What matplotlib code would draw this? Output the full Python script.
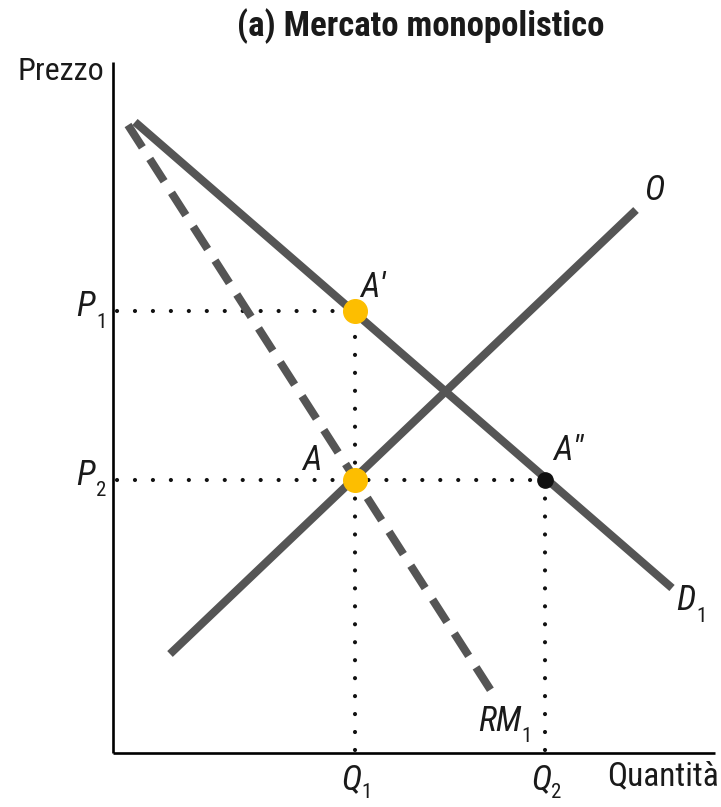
import matplotlib
matplotlib.use("Agg")
import matplotlib.pyplot as plt
from matplotlib import font_manager

# curves (quantity, price) in chart units, origin at the axes corner
demand_q = [22, 559]
demand_p = [631, 165]
supply_q = [57, 523]
supply_p = [99, 543]
mr_q = [15, 384]
mr_p = [628, 53]

q_levels = [242, 432]        # Q1, Q2
p_levels = [442, 273]        # P1, P2
q_max, p_max = 602, 691

GREY = '#555555'
GOLD = '#FDBE00'
INK = '#1a1a1a'


def pick(cands, style='normal', weight=400):
    have = {(f.name, f.style, f.weight >= 600 if isinstance(f.weight, int) else False)
            for f in font_manager.fontManager.ttflist}
    for c in cands:
        if (c, style, weight >= 600) in have:
            return [c, 'DejaVu Sans']
    return ['DejaVu Sans']

REG = pick(['Roboto Condensed', 'Archivo Narrow', 'PT Sans Narrow', 'Sofia Sans Condensed', 'Cabin Condensed'])
ITA = pick(['Roboto Condensed', 'Archivo Narrow', 'PT Sans Narrow', 'Sofia Sans Condensed'], 'italic')
BLD = pick(['Roboto Condensed', 'Archivo Narrow', 'PT Sans Narrow', 'Cabin Condensed', 'Saira SemiCondensed'], weight=700)

fig = plt.figure(figsize=(7.21, 8.07), dpi=100)
ax = fig.add_axes([0, 0, 1, 1])
ax.set_xlim(-113, 721 - 113)
ax.set_ylim(-(807 - 753), 753)
ax.axis('off')

# axes
ax.plot([0, 0], [0, p_max], color='black', lw=1.9, solid_capstyle='butt')
ax.plot([0, q_max], [0, 0], color='black', lw=1.9, solid_capstyle='butt')

# guide dots
dot = dict(color='#111111', lw=3.0, linestyle=(0, (0.01, 4.3)), dash_capstyle='round')
ax.plot([4, q_levels[0]], [p_levels[0], p_levels[0]], **dot)
ax.plot([4, q_levels[1]], [p_levels[1], p_levels[1]], **dot)
ax.plot([q_levels[0], q_levels[0]], [3, p_levels[0]], **dot)
ax.plot([q_levels[1], q_levels[1]], [3, p_levels[1]], **dot)

# curves
ax.plot(demand_q, demand_p, color=GREY, lw=5.8, solid_capstyle='butt')
ax.plot(supply_q, supply_p, color=GREY, lw=5.8, solid_capstyle='butt')
ax.plot(mr_q, mr_p, color=GREY, lw=5.8, dashes=(3.3, 1.7), dash_capstyle='butt')

# equilibrium points
ax.plot([q_levels[0], q_levels[0]], [p_levels[0], p_levels[1]], 'o', ms=17,
        color=GOLD, zorder=5, linestyle='none')
ax.plot([q_levels[1]], [p_levels[1]], 'o', ms=11, color='#111111', zorder=5)

lab = dict(fontsize=25, style='italic', color=INK, family=ITA)
sub = dict(fontsize=15, color=INK, family=REG)


def label(x, y, main, s=None, sx=0, sy=-16):
    ax.text(x, y, main, ha='left', va='center', **lab)
    if s:
        ax.text(x + sx, y + sy, s, ha='left', va='center', **sub)

label(-37, p_levels[0] + 5, 'P', '1', 20, -16)
label(-37, p_levels[1] + 5, 'P', '2', 20, -16)
label(q_levels[0] - 14, -26, 'Q', '1', 20, -13)
label(q_levels[1] - 14, -26, 'Q', '2', 20, -13)
label(360 - 113, 753 - 287, "A\u2032")
label(302 - 113, 753 - 460, 'A')
label(553 - 113, 753 - 450, "A\u2033")
label(644 - 113, 753 - 190, 'O')
label(676 - 113, 753 - 600, 'D', '1', 20, -16)
label(478 - 113, 753 - 721, 'RM', '1', 43, -16)

ax.text(607 - 113, -23, 'Quantità', ha='left', va='center', fontsize=24,
        color=INK, family=REG)
ax.text(17 - 113, 753 - 72, 'Prezzo', ha='left', va='center', fontsize=23,
        color=INK, family=REG)
ax.text(421 - 113, 753 - 26, '(a) Mercato monopolistico', ha='center',
        va='center', fontsize=25, fontweight='bold', color=INK, family=BLD)

fig.savefig('out.png', dpi=100)
